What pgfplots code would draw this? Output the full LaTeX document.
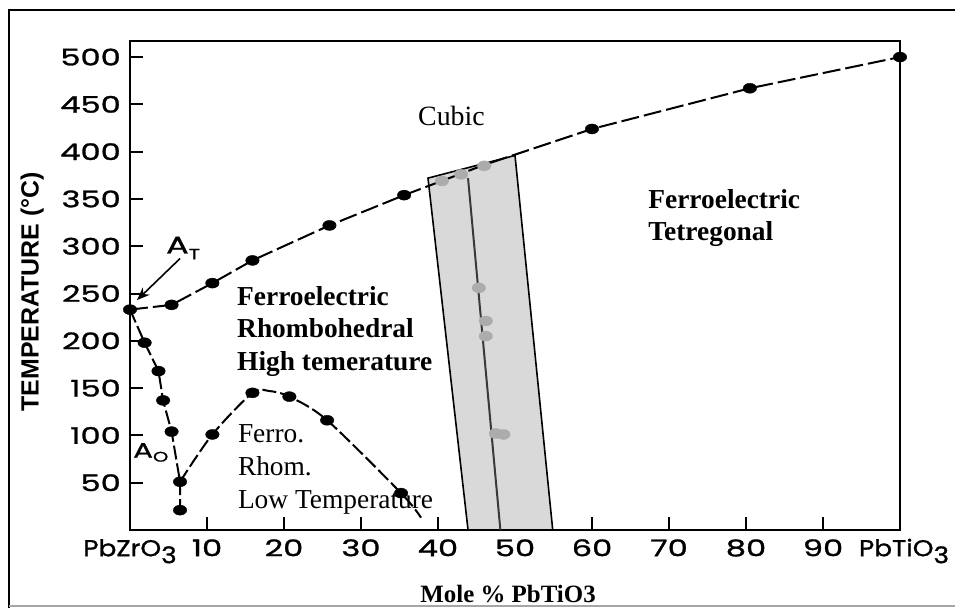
\documentclass[border=0pt]{standalone}
\usepackage{fontspec}
\setmainfont{Liberation Serif}
\newfontfamily\tickfont{Poppins}[FakeStretch=1.4,FakeBold=1.2]
\newfontfamily\narrowtick{Poppins}[FakeStretch=1.15,FakeBold=1.2]
\newfontfamily\labfont{Liberation Sans}
\usepackage{pgfplots}
\pgfplotsset{compat=1.18}
\usetikzlibrary{arrows.meta}
\begin{document}
\begin{tikzpicture}[x=1bp,y=1bp]
\useasboundingbox (0,0) rectangle (955,608);
\draw[line width=2.5bp] (9,0) -- (9,598) -- (955,598);
\draw[gray!70, line width=2bp] (9,2) -- (955,2);
\begin{axis}[
  at={(130bp,78bp)}, anchor=south west, scale only axis,
  width=770bp, height=489bp,
  xmin=0, xmax=100, ymin=0, ymax=517,
  axis line style={line width=2.4bp},
  xtick={0,10,...,90},
  xticklabels={{\narrowtick PbZrO\raisebox{-7bp}{3}},10,20,30,40,50,60,70,80,90},
  extra x ticks={100},
  extra x tick labels={{\narrowtick PbTiO\raisebox{-7bp}{3}}},
  extra x tick style={major tick length=0pt, xticklabel style={xshift=4bp}},
  ytick={50,100,...,500},
  tick align=inside, major tick length=13bp,
  tick style={line width=2bp, black},
  xtick pos=bottom, ytick pos=left,
  tick label style={font=\tickfont\fontsize{23}{25}\selectfont},
  /pgf/number format/assume math mode=true,
  xticklabel style={inner sep=0pt, anchor=north, yshift=-10bp, text height=16bp},
  yticklabel style={inner sep=0pt, anchor=east, xshift=-9bp},
  xlabel={\bfseries Mole \% PbTiO3},
  xlabel style={font=\fontsize{25}{27}\selectfont, at={(axis description cs:0.491,-0.149)}, anchor=base, inner sep=0pt},
  ylabel={TEMPERATURE (°C)},
  ylabel style={font=\labfont\bfseries\fontsize{25}{27}\selectfont, at={(axis description cs:-0.127,0.487)}, anchor=center, inner sep=0pt},
  clip=false,
]
% morphotropic band
\addplot[fill=gray!30, draw=black, line width=1.6bp] coordinates {(38.7,372) (50,396) (54.9,0) (43.9,0)} -- cycle;
\addplot[gray!45!black, line width=2bp] coordinates {(43.9,372) (48.1,0)};
\addplot[only marks, mark=*, mark size=5bp, gray!65, mark options={xscale=1.35}] coordinates {(45.3,256) (46.2,221) (46.2,205) (47.5,102) (48.5,101) (40.5,369) (43,376) (46,385)};
% Curie line
\addplot[black, line width=2bp, dash pattern=on 18bp off 5bp] coordinates {(0,233) (5.4,238) (10.7,261) (15.9,285) (25.9,322) (35.6,354) (46,386) (60,424) (80.5,467) (100,500)};
\addplot[only marks, mark=*, mark size=5bp, black, mark options={xscale=1.35}] coordinates {(0,233) (5.4,238) (10.7,261) (15.9,285) (25.9,322) (35.6,354) (60,424) (80.5,467) (100,500)};
% antiferroelectric boundary
\addplot[black, line width=2bp, dash pattern=on 14bp off 4bp] coordinates {(0,233) (1.9,198) (3.7,168) (4.3,137) (5.4,104) (6.5,51) (6.5,21)};
\addplot[only marks, mark=*, mark size=5bp, black, mark options={xscale=1.35}] coordinates {(1.9,198) (3.7,168) (4.3,137) (5.4,104) (6.5,51) (6.5,21)};
% low temperature boundary
\addplot[black, line width=2bp, dash pattern=on 14bp off 4bp, smooth] coordinates {(6.5,51) (10.7,101) (15.9,145) (18,147) (20.7,141) (25.6,116) (35.2,39) (37.8,13)};
\addplot[only marks, mark=*, mark size=5bp, black, mark options={xscale=1.35}] coordinates {(10.7,101) (15.9,145) (20.7,141) (25.6,116) (35.2,39)};
% annotations
\draw[-{Stealth[length=13bp,width=10bp]}, line width=1.6bp] (axis cs:6.5,287) -- (axis cs:0.9,243);
\node[font=\tickfont\fontsize{24}{26}\selectfont, inner sep=0pt] at (axis cs:6.9,298) {A\raisebox{-6bp}{\fontsize{15}{15}\selectfont T}};
\node[font=\tickfont\fontsize{21}{23}\selectfont, inner sep=0pt] at (axis cs:2.7,82) {A\raisebox{-4bp}{\fontsize{14}{14}\selectfont O}};
\node[font=\fontsize{28}{30}\selectfont, anchor=base west, inner sep=0pt] at (axis cs:37.4,428) {Cubic};
\node[font=\bfseries\fontsize{27.5}{30}\selectfont, anchor=base west, inner sep=0pt] at (axis cs:67.3,340) {Ferroelectric};
\node[font=\bfseries\fontsize{27.5}{30}\selectfont, anchor=base west, inner sep=0pt] at (axis cs:67.3,306) {Tetregonal};
\node[font=\bfseries\fontsize{27.5}{30}\selectfont, anchor=base west, inner sep=0pt] at (axis cs:13.9,237) {Ferroelectric};
\node[font=\bfseries\fontsize{27.5}{30}\selectfont, anchor=base west, inner sep=0pt] at (axis cs:13.9,203) {Rhombohedral};
\node[font=\bfseries\fontsize{27.5}{30}\selectfont, anchor=base west, inner sep=0pt] at (axis cs:13.9,169) {High temerature};
\node[font=\fontsize{27.5}{30}\selectfont, anchor=base west, inner sep=0pt] at (axis cs:14,92) {Ferro.};
\node[font=\fontsize{27.5}{30}\selectfont, anchor=base west, inner sep=0pt] at (axis cs:14,58) {Rhom.};
\node[font=\fontsize{27.5}{30}\selectfont, anchor=base west, inner sep=0pt] at (axis cs:14,23) {Low Temperature};
\end{axis}
\end{tikzpicture}
\end{document}
